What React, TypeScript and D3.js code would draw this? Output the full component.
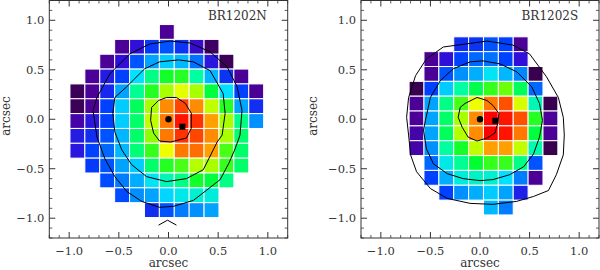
import React from 'react';
import * as d3 from 'd3';

// colour table (IDL-like rainbow), level -> colour
const levelStops = [0, 8, 16, 24, 32, 40, 48, 56, 64, 72, 80, 88, 96];
const levelColors = ['#3a0050', '#4b0096', '#3010d8', '#0040ff', '#0090ff', '#00e0ff', '#00ffa0',
    '#00ff30', '#90ff00', '#f0ff00', '#ffa000', '#ff5000', '#ff0000'];

const majorTicks = [-1.0, -0.5, 0.0, 0.5, 1.0];
const tickLabels = ['\u22121.0', '\u22120.5', '0.0', '0.5', '1.0'];
const minorTicks = [-1.2, -1.1, -0.9, -0.8, -0.7, -0.6, -0.4, -0.3, -0.2, -0.1, 0.1, 0.2, 0.3, 0.4, 0.6, 0.7, 0.8, 0.9, 1.1, 1.2];

const _ = null;

// BR1202N: pixel centres (arcsec) and levels, rows top -> bottom
const northCols = [-0.917, -0.767, -0.617, -0.467, -0.317, -0.167, -0.017, 0.133, 0.283, 0.433, 0.583, 0.733, 0.883];
const northRows = [0.882, 0.732, 0.582, 0.432, 0.282, 0.132, -0.018, -0.168, -0.318, -0.468, -0.618, -0.768, -0.918];
const northLevels: (number | null)[][] = [
    [_, _, _, _, _, _, 8, _, _, _, _, _, _],
    [_, _, _, 8, 16, 23, 26, 22, 14, 2, _, _, _],
    [_, _, 8, 16, 26, 34, 38, 36, 29, 17, 1, _, _],
    [_, 8, 18, 24, 40, 50, 57, 58, 48, 36, 22, 8, _],
    [1, 8, 20, 34, 49, 58, 66, 71, 66, 55, 40, 24, 8],
    [1, 8, 24, 38, 53, 66, 82, 89, 82, 68, 58, 34, 21],
    [10, 17, 24, 38, 52, 68, 84, 94, 91, 80, 66, 50, 32],
    [18, 21, 26, 36, 52, 64, 84, 91, 89, 82, 66, 52, _],
    [17, 24, 28, 36, 51, 59, 72, 84, 85, 80, 60, 52, _],
    [_, 23, 26, 34, 38, 52, 58, 60, 67, 66, 59, 52, _],
    [_, _, 25, 30, 35, 41, 46, 50, 57, 55, 50, _, _],
    [_, _, _, 25, 32, 34, 39, 42, 44, 43, _, _, _],
    [_, _, _, _, _, 21, 26, 30, 32, 34, _, _, _],
];

// BR1202S
const southCols = [-0.64, -0.49, -0.34, -0.19, -0.04, 0.11, 0.26, 0.41, 0.56, 0.71];
const southRows = [0.758, 0.608, 0.458, 0.308, 0.158, 0.008, -0.142, -0.292, -0.442, -0.592, -0.742, -0.892];
const southLevels: (number | null)[][] = [
    [_, _, _, 21, 22, 26, 24, 8, _, _],
    [_, 8, 16, 24, 28, 29, 24, 16, _, _],
    [_, 8, 26, 32, 35, 41, 36, 31, 0, _],
    [0, 24, 38, 48, 54, 59, 62, 53, 28, _],
    [8, 34, 50, 60, 72, 84, 88, 70, 46, 0],
    [8, 34, 52, 66, 82, 96, 94, 88, 58, 8],
    [10, 34, 53, 67, 82, 96, 94, 84, 55, 8],
    [10, 32, 48, 57, 68, 80, 80, 68, 47, 0],
    [_, 28, 42, 49, 56, 59, 59, 50, 26, _],
    [_, 24, 35, 43, 45, 44, 40, 30, 8, _],
    [_, _, 24, 32, 35, 38, 34, 19, _, _],
    [_, _, _, _, _, 36, 30, _, _, _],
];

// contour vertices (arcsec)
const northInner: [number, number][] = [[-0.10, 0.19], [-0.02, 0.22], [0.08, 0.22], [0.17, 0.16], [0.23, 0.06], [0.23, -0.09],
    [0.18, -0.19], [0.02, -0.23], [-0.09, -0.22], [-0.15, -0.14], [-0.18, -0.01], [-0.17, 0.12]];
const northMiddle: [number, number][] = [[-0.56, 0.06], [-0.54, 0.22], [-0.42, 0.33], [-0.24, 0.51], [-0.09, 0.58], [0.10, 0.60],
    [0.25, 0.58], [0.42, 0.49], [0.55, 0.26], [0.57, 0.06], [0.54, -0.16], [0.49, -0.23], [0.35, -0.51], [0.18, -0.60],
    [-0.02, -0.63], [-0.22, -0.58], [-0.37, -0.46], [-0.47, -0.31], [-0.54, -0.13]];
const northOuter: [number, number][] = [[-0.76, 0.09], [-0.72, 0.22], [-0.59, 0.46], [-0.39, 0.66], [-0.19, 0.76], [0.02, 0.79],
    [0.22, 0.77], [0.42, 0.68], [0.59, 0.53], [0.69, 0.33], [0.74, 0.09], [0.72, -0.16], [0.67, -0.30], [0.61, -0.44],
    [0.52, -0.61], [0.38, -0.72], [0.25, -0.82], [0.05, -0.88], [-0.09, -0.89], [-0.27, -0.83], [-0.42, -0.73],
    [-0.54, -0.58], [-0.64, -0.40], [-0.72, -0.18]];
const northChevron: [number, number][] = [[-0.10, -1.07], [-0.01, -1.02], [0.08, -1.07]];

const southInner: [number, number][] = [[-0.20, 0.12], [-0.15, 0.16], [-0.03, 0.22], [0.07, 0.19], [0.13, 0.14], [0.19, 0.06],
    [0.18, -0.04], [0.15, -0.14], [0.07, -0.19], [-0.03, -0.22], [-0.12, -0.18], [-0.18, -0.08], [-0.22, 0.02]];
const southMiddle: [number, number][] = [[-0.55, -0.01], [-0.50, 0.22], [-0.40, 0.39], [-0.27, 0.51], [-0.10, 0.58], [0.03, 0.59],
    [0.20, 0.56], [0.37, 0.48], [0.52, 0.33], [0.60, 0.16], [0.63, -0.01], [0.60, -0.18], [0.54, -0.35], [0.44, -0.48],
    [0.30, -0.56], [0.13, -0.61], [0.00, -0.62], [-0.17, -0.60], [-0.33, -0.55], [-0.47, -0.45], [-0.54, -0.30], [-0.57, -0.11]];
const southOuter: [number, number][] = [[0.07, 0.79], [0.33, 0.75], [0.50, 0.66], [0.67, 0.43], [0.79, 0.22], [0.84, 0.02],
    [0.85, -0.16], [0.84, -0.36], [0.77, -0.56], [0.69, -0.72], [0.54, -0.78], [0.37, -0.83], [0.13, -0.86], [-0.10, -0.85],
    [-0.33, -0.80], [-0.50, -0.70], [-0.64, -0.53], [-0.70, -0.36], [-0.72, -0.16], [-0.74, 0.02], [-0.72, 0.22],
    [-0.65, 0.44], [-0.54, 0.61], [-0.37, 0.73]];

const northDot: [number, number] = [0.0, 0.0];
const northSquare: [number, number] = [0.14, -0.075];
const southDot: [number, number] = [0.0, 0.0];
const southSquare: [number, number] = [0.155, -0.015];

const FONT = '"DejaVu Serif", serif';
const TEXT = '#333';

const colour = d3.scaleLinear<string>().domain(levelStops).range(levelColors).clamp(true);

interface PanelProps {
    left: number;
    right: number;
    name: string;
    cols: number[];
    rows: number[];
    levels: (number | null)[][];
    contours: [number, number][][];
    dot: [number, number];
    square: [number, number];
    chevron?: [number, number][];
    yTitleX: number;
}

const Panel: React.FC<PanelProps> = ({ left, right, name, cols, rows, levels, contours, dot, square, chevron, yTitleX }) => {
    const x = d3.scaleLinear().domain([-1.2, 1.2]).range([left, right]);
    const y = d3.scaleLinear().domain([-1.2, 1.2]).range([238, 0.5]);
    const cw = x(0.15) - x(0);
    const ch = y(0) - y(0.15);
    const closed = d3.line<[number, number]>().x(d => x(d[0])).y(d => y(d[1])).curve(d3.curveLinearClosed);
    const open = d3.line<[number, number]>().x(d => x(d[0])).y(d => y(d[1]));
    const top = y(1.2), bottom = y(-1.2);

    return (
        <g>
            {/* pixels */}
            {levels.map((row, r) => row.map((v, c) => v === null ? null : (
                <rect key={`${r}-${c}`} x={x(cols[c]) - cw / 2} y={y(rows[r]) - ch / 2} width={cw} height={ch}
                    fill={colour(v)} stroke="#fff" strokeWidth={1} />
            )))}
            {contours.map((pts, i) => (
                <path key={i} d={closed(pts) || ''} fill="none" stroke="#000" strokeWidth={1} />
            ))}
            {chevron && <path d={open(chevron) || ''} fill="none" stroke="#000" strokeWidth={1} />}
            <circle cx={x(dot[0])} cy={y(dot[1])} r={3.2} fill="#000" />
            <rect x={x(square[0]) - 3} y={y(square[1]) - 3} width={6} height={6} fill="#000" />

            {/* frame and ticks */}
            <rect x={left} y={top} width={right - left} height={bottom - top} fill="none" stroke="#333" strokeWidth={1} />
            {majorTicks.map(t => (
                <g key={`M${t}`} stroke="#333" strokeWidth={1}>
                    <line x1={x(t)} x2={x(t)} y1={bottom} y2={bottom - 6} />
                    <line x1={x(t)} x2={x(t)} y1={top} y2={top + 6} />
                    <line x1={left} x2={left + 6} y1={y(t)} y2={y(t)} />
                    <line x1={right} x2={right - 6} y1={y(t)} y2={y(t)} />
                </g>
            ))}
            {minorTicks.map(t => (
                <g key={`m${t}`} stroke="#333" strokeWidth={0.8}>
                    <line x1={x(t)} x2={x(t)} y1={bottom} y2={bottom - 3} />
                    <line x1={x(t)} x2={x(t)} y1={top} y2={top + 3} />
                    <line x1={left} x2={left + 3} y1={y(t)} y2={y(t)} />
                    <line x1={right} x2={right - 3} y1={y(t)} y2={y(t)} />
                </g>
            ))}
            {majorTicks.map((t, i) => (
                <text key={`xl${t}`} x={x(t)} y={254.5} textAnchor="middle" fontFamily={FONT} fontSize={11.5} fill={TEXT}>
                    {tickLabels[i]}
                </text>
            ))}
            {majorTicks.map((t, i) => (
                <text key={`yl${t}`} x={left - 5} y={y(t)} dy="0.35em" textAnchor="end" fontFamily={FONT} fontSize={11.5} fill={TEXT}>
                    {tickLabels[i]}
                </text>
            ))}
            <text x={x(0)} y={267} textAnchor="middle" fontFamily={FONT} fontSize={12} fill={TEXT}>arcsec</text>
            <text transform={`translate(${yTitleX},116) rotate(-90)`} textAnchor="middle" fontFamily={FONT} fontSize={12} fill={TEXT}>arcsec</text>
            <text x={x(0.99)} y={y(1.0)} textAnchor="end" fontFamily={FONT} fontSize={12} fill={TEXT}>{name}</text>
        </g>
    );
};

export default function App() {
    return (
        <svg width={600} height={270} style={{ position: 'absolute', left: 0, top: 0, background: '#fff' }}>
            <Panel left={49.3} right={287.7} name="BR1202N" cols={northCols} rows={northRows} levels={northLevels}
                contours={[northInner, northMiddle, northOuter]} dot={northDot} square={northSquare}
                chevron={northChevron} yTitleX={10} />
            <Panel left={361} right={599} name="BR1202S" cols={southCols} rows={southRows} levels={southLevels}
                contours={[southInner, southMiddle, southOuter]} dot={southDot} square={southSquare}
                yTitleX={317} />
        </svg>
    );
}
